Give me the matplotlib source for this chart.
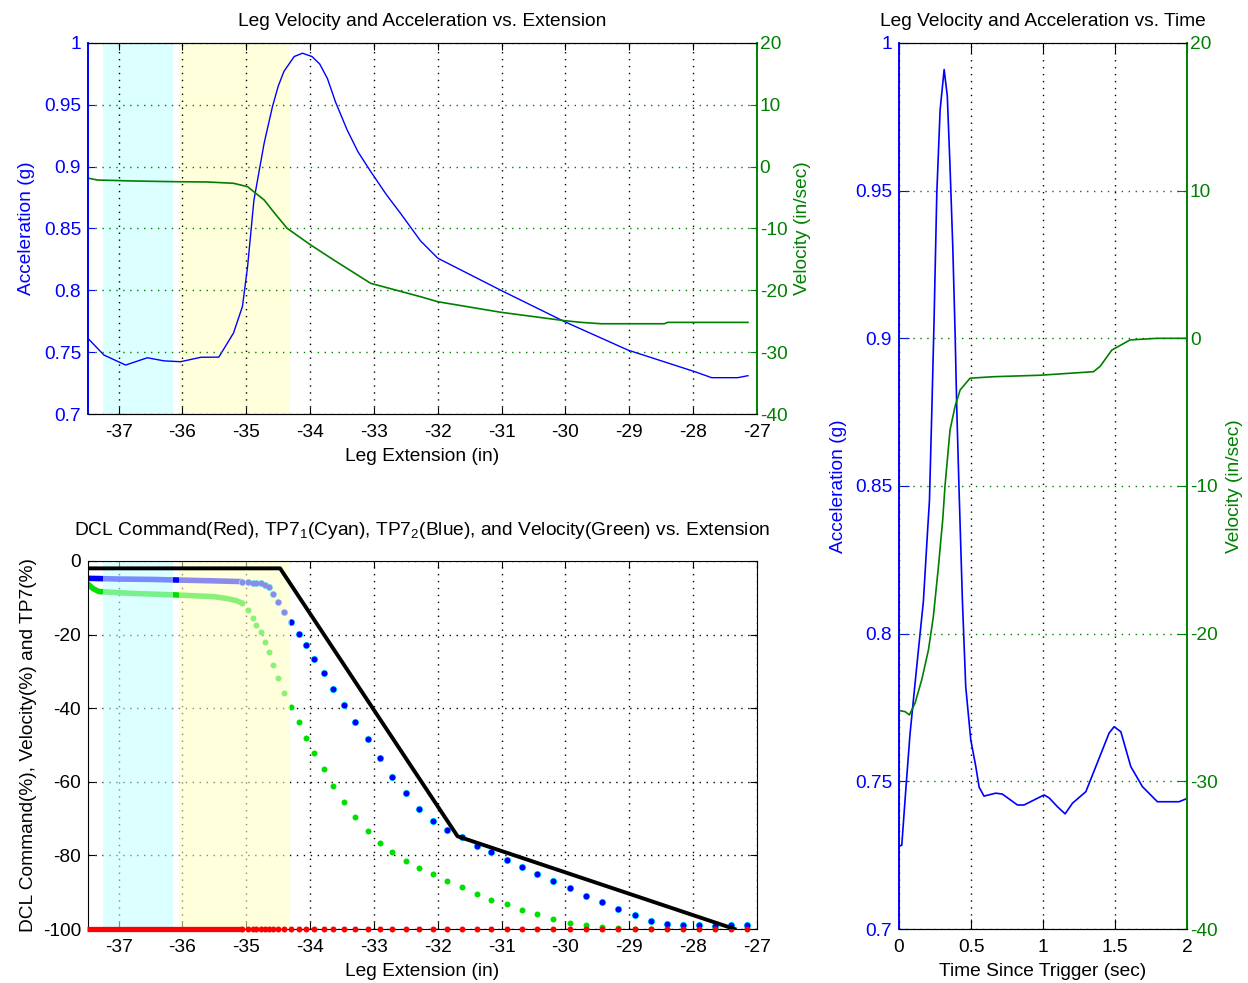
import numpy as np
import matplotlib.pyplot as plt

plt.rcParams['font.family'] = ['Liberation Sans', 'DejaVu Sans']
plt.rcParams['font.size'] = 13.8
plt.rcParams['axes.unicode_minus'] = False
plt.rcParams['mathtext.fontset'] = 'custom'
plt.rcParams['mathtext.rm'] = 'Liberation Sans'
plt.rcParams['mathtext.it'] = 'Liberation Sans:italic'

BLUE = '#0000ff'
GREEN = '#008000'
CYAN_BAND = '#dcffff'
YELLOW_BAND = '#ffffdc'
DOTTED = (0, (1, 4))

# ---- acceleration / velocity vs. extension ----
ext_acc = [-37.47, -37.23, -36.89, -36.55, -36.29, -36.03, -35.71, -35.43, -35.20,
           -35.06, -34.98, -34.88, -34.72, -34.59, -34.50, -34.41, -34.25, -34.12,
           -33.97, -33.85, -33.73, -33.60, -33.42, -33.25, -33.05, -32.80, -32.58,
           -32.27, -32.00, -31.01, -30.01, -29.02, -27.97, -27.71, -27.30, -27.14]
acc_ext = [0.7606, 0.7477, 0.7396, 0.7455, 0.7430, 0.7423, 0.7459, 0.7460, 0.7655,
           0.7870, 0.8190, 0.8730, 0.9190, 0.9485, 0.9650, 0.9770, 0.9890, 0.9917,
           0.9890, 0.9830, 0.9714, 0.9520, 0.9297, 0.9120, 0.8960, 0.8770, 0.8620,
           0.8400, 0.8260, 0.8000, 0.7746, 0.7517, 0.7342, 0.7294, 0.7294, 0.7310]
ext_vel = [-37.47, -37.33, -36.76, -36.13, -35.61, -35.20, -34.98, -34.72, -34.55,
           -34.36, -34.15, -33.99, -33.63, -33.05, -32.27, -32.00, -31.01, -30.01,
           -29.75, -29.44, -28.45, -28.40, -27.14]
vel_ext = [-1.88, -2.16, -2.32, -2.43, -2.48, -2.69, -3.24, -5.39, -7.60,
           -9.97, -11.50, -12.67, -15.09, -18.87, -21.03, -21.84, -23.55, -24.91,
           -25.18, -25.40, -25.40, -25.18, -25.18]

# extension bands where TP7_1 and TP7_2 are active
band_tp7_1 = (-37.25, -36.15)
band_tp7_2 = (-36.06, -34.32)

# ---- DCL command, TP7 and velocity in percent ----
ext_tp7_dense = [-37.49, -37.0, -36.5, -36.0, -35.5, -35.06]
tp7_dense = [-4.7, -4.9, -5.0, -5.2, -5.4, -5.6]
ext_vel_dense = [-37.49, -37.40, -37.31, -36.80, -36.13, -35.50, -35.30, -35.15, -35.06]
vel_pct_dense = [-6.1, -7.5, -8.3, -8.8, -9.2, -9.7, -10.2, -10.8, -11.5]
ext_dcl_dense = [-37.49, -35.06]
dcl_dense = [-100, -100]

ext_pts = [-35.06, -34.98, -34.90, -34.84, -34.77, -34.71, -34.65, -34.58, -34.50,
           -34.41, -34.30, -34.18, -34.07, -33.94, -33.79, -33.64, -33.47, -33.29,
           -33.10, -32.90, -32.71, -32.50, -32.29, -32.07, -31.85, -31.62, -31.39,
           -31.16, -30.92, -30.68, -30.44, -30.19, -29.93, -29.68, -29.43, -29.17,
           -28.91, -28.66, -28.41, -28.16, -27.90, -27.65, -27.40, -27.15]
tp7_pts = [-5.6, -5.8, -5.9, -6.0, -6.1, -6.5, -7.2, -9.1, -11.2,
           -13.8, -16.5, -19.7, -22.8, -26.5, -30.5, -34.7, -39.0, -43.7,
           -48.5, -53.6, -58.6, -63.1, -67.4, -70.6, -73.1, -75.1, -77.4,
           -79.2, -81.3, -83.1, -85.1, -86.9, -88.9, -90.9, -92.7, -94.6,
           -96.2, -97.7, -98.5, -98.9, -98.9, -99.1, -98.9, -98.9]
vel_pct_pts = [-11.5, -13.3, -15.6, -17.4, -19.2, -21.9, -24.6, -28.3, -31.7,
               -35.8, -39.8, -43.8, -48.0, -52.3, -56.6, -61.1, -65.4, -69.5,
               -73.4, -76.5, -79.2, -81.4, -83.3, -85.1, -86.9, -88.6, -90.4,
               -92.0, -93.3, -94.7, -96.0, -97.2, -98.3, -99.0, -99.5, -99.8,
               -100, -100, -100, -100, -100, -99.8, -99.6, -99.5]
dcl_pts = [-100] * len(ext_pts)

limit_ext = [-37.48, -34.47, -31.69, -27.35]
limit_pct = [-2.0, -2.0, -74.8, -100.0]

# ---- acceleration / velocity vs. time ----
t_acc = [0.0, 0.019, 0.042, 0.076, 0.123, 0.169, 0.197, 0.211, 0.227, 0.243, 0.262,
         0.285, 0.313, 0.335, 0.354, 0.373, 0.389, 0.401, 0.417, 0.44, 0.463, 0.498,
         0.533, 0.556, 0.59, 0.671, 0.717, 0.822, 0.868, 1.007, 1.042, 1.10, 1.153,
         1.204, 1.297, 1.389, 1.458, 1.493, 1.54, 1.609, 1.69, 1.794, 1.944, 1.99]
acc_t = [0.728, 0.7284, 0.744, 0.766, 0.789, 0.811, 0.834, 0.845, 0.8746, 0.906, 0.949,
         0.9773, 0.991, 0.982, 0.958, 0.931, 0.902, 0.8757, 0.848, 0.811, 0.782, 0.764,
         0.755, 0.748, 0.745, 0.746, 0.7457, 0.742, 0.742, 0.7454, 0.7444, 0.7414, 0.739,
         0.7426, 0.7465, 0.7578, 0.7663, 0.7685, 0.7668, 0.755, 0.7482, 0.7431, 0.7431, 0.744]
t_vel = [0.0, 0.042, 0.072, 0.111, 0.158, 0.204, 0.238, 0.273, 0.303, 0.319, 0.354,
         0.389, 0.424, 0.493, 0.655, 0.979, 1.35, 1.396, 1.477, 1.604, 1.79, 1.99]
vel_t = [-25.2, -25.28, -25.5, -24.7, -23.1, -21.1, -18.85, -15.5, -12.3, -10.0, -6.2,
         -4.6, -3.5, -2.7, -2.6, -2.5, -2.26, -1.9, -0.8, -0.11, 0.0, 0.0]

acc_ticks = [0.7, 0.75, 0.8, 0.85, 0.9, 0.95, 1.0]
acc_labels = ['0.7', '0.75', '0.8', '0.85', '0.9', '0.95', '1']
vel_ticks = [-40, -30, -20, -10, 0, 10, 20]
ext_ticks = [-37, -36, -35, -34, -33, -32, -31, -30, -29, -28, -27]


def style_twin(ax, ax2, ticklen):
    ax.set_ylim(0.7, 1.0)
    ax.set_yticks(acc_ticks)
    ax.set_yticklabels(acc_labels)
    ax2.set_ylim(-40, 20)
    ax2.set_yticks(vel_ticks)
    ax.tick_params(axis='y', colors=BLUE, direction='in', length=ticklen, pad=5)
    ax.tick_params(axis='x', direction='in', length=ticklen, top=True, pad=7)
    ax2.tick_params(axis='y', colors=GREEN, direction='in', length=ticklen, pad=2)
    for a in (ax, ax2):
        a.spines['left'].set_color(BLUE)
        a.spines['right'].set_color(GREEN)
        a.spines['left'].set_linewidth(1.2)
        a.spines['right'].set_linewidth(1.2)
    ax.xaxis.grid(True, color='k', ls=DOTTED, lw=1.0)
    ax2.yaxis.grid(True, color=GREEN, ls=DOTTED, lw=1.0)


fig = plt.figure(figsize=(12.48, 9.83), dpi=100)

# top left: acceleration and velocity against extension
ax1 = fig.add_axes([0.0705, 0.5788, 0.536, 0.3775])
ax1b = ax1.twinx()
ax1.axvspan(*band_tp7_1, color=CYAN_BAND, lw=0, zorder=0)
ax1.axvspan(*band_tp7_2, color=YELLOW_BAND, lw=0, zorder=0)
ax1.plot(ext_acc, acc_ext, color=BLUE, lw=1.0)
ax1b.plot(ext_vel, vel_ext, color=GREEN, lw=1.2)
ax1.set_xlim(-37.48, -27)
ax1.set_xticks(ext_ticks)
style_twin(ax1, ax1b, 5)
ax1.set_title('Leg Velocity and Acceleration vs. Extension', fontsize=13.8, pad=12)
ax1.set_xlabel('Leg Extension (in)', labelpad=5)
ax1.set_ylabel('Acceleration (g)', color=BLUE, labelpad=6)
ax1b.set_ylabel('Velocity (in/sec)', color=GREEN, labelpad=5)

# bottom left: command, TP7 and velocity percentages
ax3 = fig.add_axes([0.0705, 0.0549, 0.536, 0.3744])
ax3.set_axisbelow(True)
ax3.axvspan(*band_tp7_1, color=CYAN_BAND, lw=0, zorder=0.2)
ax3.axvspan(*band_tp7_2, color=YELLOW_BAND, lw=0, zorder=0.2)
ax3.plot(ext_vel_dense, vel_pct_dense, color='#00e000', lw=4, zorder=2,
         solid_capstyle='butt')
ax3.plot(ext_pts, vel_pct_pts, 'o', color='#00e000', ms=4.3, mec='none', zorder=2)
ax3.plot(ext_tp7_dense, tp7_dense, color=BLUE, lw=4, zorder=2, solid_capstyle='butt')
ax3.plot(ext_pts, tp7_pts, 'o', color='#00ffff', ms=5.2, mec='none', zorder=2)
ax3.plot(ext_pts, tp7_pts, 'o', color=BLUE, ms=4.3, mec='none', zorder=2)
# translucent bands sit over the sampled traces
ax3.axvspan(*band_tp7_1, color=CYAN_BAND, alpha=0.55, lw=0, zorder=2.5)
ax3.axvspan(*band_tp7_2, color=YELLOW_BAND, alpha=0.55, lw=0, zorder=2.5)
ax3.plot(ext_dcl_dense, dcl_dense, color='#ff0000', lw=3.8, zorder=3,
         solid_capstyle='butt', clip_on=False)
ax3.plot(ext_pts, dcl_pts, 'o', color='#ff0000', ms=4.3, mec='none', zorder=3,
         clip_on=False)
ax3.plot(limit_ext, limit_pct, color='k', lw=2.8, zorder=3.5)
ax3.set_xlim(-37.48, -27)
ax3.set_ylim(-100, 0)
ax3.set_xticks(ext_ticks)
ax3.set_yticks([-100, -80, -60, -40, -20, 0])
ax3.tick_params(direction='in', length=5, top=True, right=True)
ax3.tick_params(axis='x', pad=7)
ax3.tick_params(axis='y', pad=5)
ax3.grid(True, color='k', ls=DOTTED, lw=1.0)
ax3.set_title(r'DCL Command(Red), TP7$_1$(Cyan), TP7$_2$(Blue), and Velocity(Green) vs. Extension',
              fontsize=13.8, pad=19)
ax3.set_xlabel('Leg Extension (in)', labelpad=5)
ax3.set_ylabel('DCL Command(%), Velocity(%) and TP7(%)', labelpad=4)

# right: acceleration and velocity against time
ax4 = fig.add_axes([0.7204, 0.0549, 0.2308, 0.9014])
ax4b = ax4.twinx()
ax4.plot(t_acc, acc_t, color=BLUE, lw=1.2)
ax4b.plot(t_vel, vel_t, color=GREEN, lw=1.2)
ax4.set_xlim(0, 2)
ax4.set_xticks([0, 0.5, 1, 1.5, 2])
ax4.set_xticklabels(['0', '0.5', '1', '1.5', '2'])
style_twin(ax4, ax4b, 7)
ax4.set_title('Leg Velocity and Acceleration vs. Time', fontsize=13.8, pad=12)
ax4.set_xlabel('Time Since Trigger (sec)', labelpad=5)
ax4.set_ylabel('Acceleration (g)', color=BLUE, labelpad=6)
ax4b.set_ylabel('Velocity (in/sec)', color=GREEN, labelpad=6)

fig.savefig('out.png', dpi=100)
